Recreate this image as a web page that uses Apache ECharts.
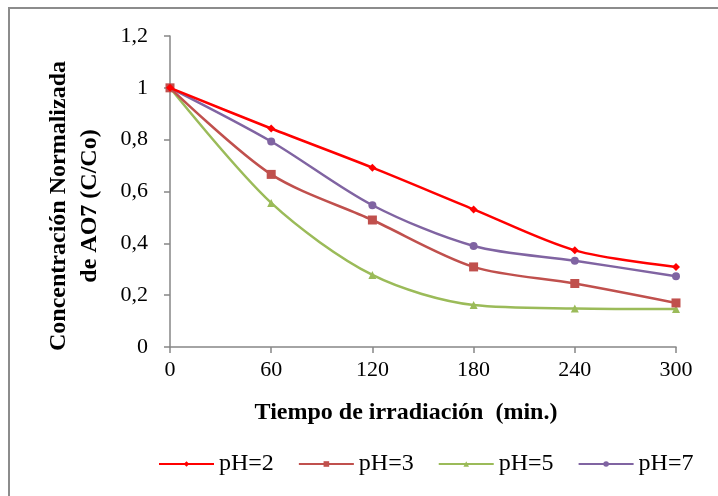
<!DOCTYPE html>
<html>
<head>
<meta charset="utf-8">
<script src="https://cdn.jsdelivr.net/npm/echarts@6/dist/echarts.min.js"></script>
<style>
  html, body { margin: 0; padding: 0; background: #fff; }
  #chart { width: 718px; height: 496px; }
</style>
</head>
<body>
<div id="chart"></div>
<script>
// Irradiation time (min) and normalized AO7 concentration C/Co for each pH
const times = [0, 60, 120, 180, 240, 300];
const seriesNames = ['pH=2', 'pH=3', 'pH=5', 'pH=7'];
const ph2 = [1, 0.843, 0.692, 0.531, 0.373, 0.309];
const ph3 = [1, 0.666, 0.490, 0.309, 0.245, 0.170];
const ph5 = [1, 0.556, 0.278, 0.162, 0.149, 0.147];
const ph7 = [1, 0.793, 0.547, 0.390, 0.333, 0.273];
const yTicks = [0, 0.2, 0.4, 0.6, 0.8, 1, 1.2];

const colors = ['#FF0000', '#C0504D', '#9BBB59', '#8064A2'];
const symbols = ['diamond', 'rect', 'triangle', 'circle'];
const symbolSizes = [8, 9, 8, 8];
const values = [ph2, ph3, ph5, ph7];

const serif = '"Liberation Serif", "DejaVu Serif", serif';
const axisGray = '#868686';

const chart = echarts.init(document.getElementById('chart'));

const series = seriesNames.map((name, i) => ({
  name: name,
  type: 'line',
  smooth: 0.3,
  data: times.map((t, j) => [t, values[i][j]]),
  symbol: symbols[i],
  symbolSize: symbolSizes[i],
  showSymbol: true,
  lineStyle: { color: colors[i], width: 2.5 },
  itemStyle: { color: colors[i] },
  emphasis: { disabled: true },
  z: 10 - i
}));

chart.setOption({
  animation: false,
  backgroundColor: '#fff',
  textStyle: { fontFamily: serif, color: '#000' },
  grid: { left: 170, right: 42, top: 36, bottom: 149 },
  xAxis: {
    type: 'value',
    min: 0,
    max: 300,
    interval: 60,
    splitLine: { show: false },
    axisLine: { lineStyle: { color: axisGray, width: 1.5 } },
    axisTick: { show: true, length: 6, lineStyle: { color: axisGray, width: 1.5 } },
    axisLabel: { color: '#000', fontFamily: serif, fontSize: 22, margin: 12 },
    name: 'Tiempo de irradiación  (min.)',
    nameLocation: 'middle',
    nameGap: 54,
    nameTextStyle: {
      color: '#000', fontFamily: serif, fontSize: 24, fontWeight: 'bold',
      padding: [0, 34, 0, 0]
    }
  },
  yAxis: {
    type: 'value',
    min: 0,
    max: 1.2,
    interval: 0.2,
    splitLine: { show: false },
    axisLine: { show: true, lineStyle: { color: axisGray, width: 1.5 } },
    axisTick: { show: true, length: 6, lineStyle: { color: axisGray, width: 1.5 } },
    axisLabel: {
      color: '#000', fontFamily: serif, fontSize: 22, margin: 22,
      formatter: v => {
        const t = yTicks.find(x => Math.abs(x - v) < 1e-6);
        return String(t === undefined ? v : t).replace('.', ',');
      }
    }
  },
  legend: {
    data: seriesNames,
    left: 153,
    top: 447,
    itemGap: 24,
    itemWidth: 55,
    itemHeight: 7,
    textStyle: { color: '#000', fontFamily: serif, fontSize: 24 },
    itemStyle: { borderWidth: 0 }
  },
  graphic: [
    {
      type: 'rect',
      shape: { x: 9, y: 8, width: 760, height: 540 },
      style: { fill: 'none', stroke: '#8c8c8c', lineWidth: 2 },
      silent: true
    },
    {
      type: 'text',
      x: 74,
      y: 206,
      rotation: Math.PI / 2,
      style: {
        text: 'Concentración Normalizada\nde AO7 (C/Co)',
        font: 'bold 24px ' + serif,
        fill: '#000',
        align: 'center',
        verticalAlign: 'middle',
        lineHeight: 31
      },
      silent: true
    }
  ],
  series: series
});
</script>
</body>
</html>
